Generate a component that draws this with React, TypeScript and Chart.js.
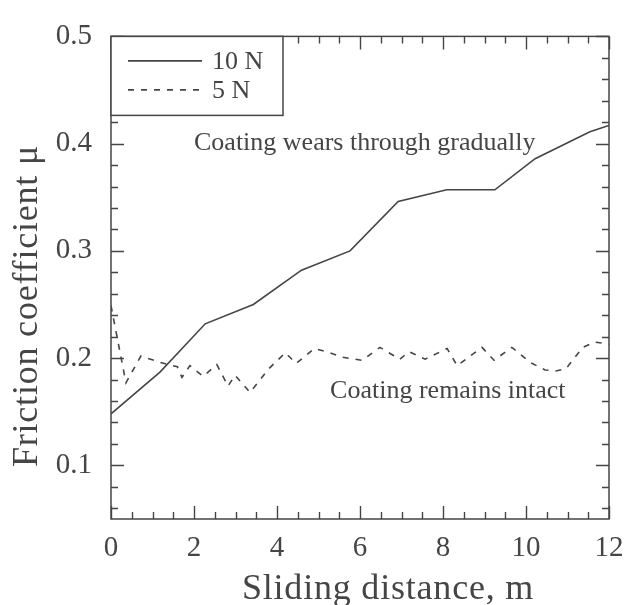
import React, { useEffect, useRef } from 'react';
import { Chart, registerables } from 'chart.js';

Chart.register(...registerables);

// ---- data ----
const distance10N = [0, 1.18, 2.27, 3.43, 4.59, 5.76, 6.92, 8.09, 9.25, 10.22, 11.54, 12];
const friction10N = [0.148, 0.187, 0.232, 0.25, 0.282, 0.3, 0.346, 0.357, 0.357, 0.386, 0.411, 0.417];

const distance5N = [0, 0.36, 0.72, 1.18, 1.6, 1.71, 1.9, 2.22, 2.55, 2.82, 2.99, 3.35, 3.8, 4.2, 4.46, 4.9, 5.28, 5.55, 6.05, 6.48, 6.96, 7.18, 7.57, 8.1, 8.34, 8.94, 9.23, 9.66, 10.1, 10.46, 10.72, 10.96, 11.37, 11.66, 12];
const friction5N = [0.249, 0.177, 0.202, 0.196, 0.192, 0.182, 0.193, 0.183, 0.194, 0.174, 0.184, 0.168, 0.19, 0.205, 0.195, 0.209, 0.205, 0.201, 0.198, 0.21, 0.199, 0.206, 0.199, 0.209, 0.193, 0.21, 0.198, 0.21, 0.196, 0.189, 0.188, 0.19, 0.21, 0.215, 0.213];

const seriesLabels = ['10 N', '5 N'];
const xTickValues = [0, 2, 4, 6, 8, 10, 12];
const yTickValues = [0.1, 0.2, 0.3, 0.4, 0.5];
const xMinorStep = 0.5;
const yMinorStep = 0.02;
const xTitle = 'Sliding distance, m';
const yTitle = 'Friction coefficient μ';
const annotations = [
  { text: 'Coating wears through gradually', x: 2.0, y: 0.3938 },
  { text: 'Coating remains intact', x: 5.28, y: 0.1625 },
];

const INK = '#454545';
const FONT = '"Liberation Serif", "Times New Roman", serif';

const decor = {
  id: 'decor',
  afterDraw(chart: any) {
    const { ctx, chartArea, scales } = chart;
    const { left, right, top, bottom } = chartArea;
    const xs = scales.x;
    const ys = scales.y;
    ctx.save();
    ctx.strokeStyle = INK;
    ctx.lineWidth = 1.4;
    ctx.lineCap = 'butt';

    // x ticks (bottom and top, inward)
    const xMin = xs.min, xMax = xs.max;
    const nX = Math.round((xMax - xMin) / xMinorStep);
    for (let i = 0; i <= nX; i++) {
      const v = xMin + i * xMinorStep;
      const major = xTickValues.some((t) => Math.abs(t - v) < 1e-6);
      const len = major ? 13 : 7;
      const px = Math.round(xs.getPixelForValue(v)) + 0.5;
      ctx.beginPath();
      ctx.moveTo(px, bottom);
      ctx.lineTo(px, bottom - len);
      ctx.moveTo(px, top);
      ctx.lineTo(px, top + len);
      ctx.stroke();
    }
    // y ticks (left and right, inward)
    const yStart = Math.ceil(ys.min / yMinorStep - 1e-6) * yMinorStep;
    for (let v = yStart; v <= ys.max + 1e-6; v += yMinorStep) {
      const major = yTickValues.some((t) => Math.abs(t - v) < 1e-6);
      const len = major ? 13 : 7;
      const py = Math.round(ys.getPixelForValue(v)) + 0.5;
      ctx.beginPath();
      ctx.moveTo(left, py);
      ctx.lineTo(left + len, py);
      ctx.moveTo(right, py);
      ctx.lineTo(right - len, py);
      ctx.stroke();
    }
    // frame
    ctx.lineWidth = 1.5;
    ctx.strokeRect(left, top, right - left, bottom - top);

    // legend box
    const lw = 172, lh = 79;
    ctx.fillStyle = '#ffffff';
    ctx.fillRect(left, top, lw, lh);
    ctx.lineWidth = 1.5;
    ctx.strokeRect(left, top, lw, lh);
    ctx.font = `26px ${FONT}`;
    ctx.textAlign = 'left';
    ctx.textBaseline = 'alphabetic';
    chart.data.datasets.forEach((ds: any, i: number) => {
      const ly = top + 24 + i * 29;
      ctx.save();
      ctx.strokeStyle = ds.borderColor;
      ctx.lineWidth = ds.borderWidth;
      ctx.setLineDash(ds.borderDash || []);
      ctx.beginPath();
      ctx.moveTo(left + 17, ly + 0.5);
      ctx.lineTo(left + 91, ly + 0.5);
      ctx.stroke();
      ctx.restore();
      ctx.fillStyle = INK;
      ctx.fillText(ds.label, left + 101, ly + 9);
    });

    // annotations
    ctx.fillStyle = INK;
    ctx.font = `26px ${FONT}`;
    annotations.forEach((a) => {
      ctx.fillText(a.text, xs.getPixelForValue(a.x), ys.getPixelForValue(a.y));
    });

    // axis titles
    ctx.font = `36px ${FONT}`;
    try { (ctx as any).letterSpacing = '0.8px'; } catch (e) { /* ignore */ }
    ctx.textAlign = 'center';
    ctx.fillText(xTitle, 388, 599);
    ctx.translate(37, 306);
    ctx.rotate(-Math.PI / 2);
    ctx.fillText(yTitle, 0, 0);
    try { (ctx as any).letterSpacing = '0px'; } catch (e) { /* ignore */ }
    ctx.restore();
  },
};

export default function App() {
  const ref = useRef<HTMLCanvasElement | null>(null);
  useEffect(() => {
    if (!ref.current) return;
    const chart = new Chart(ref.current, {
      type: 'line',
      data: {
        datasets: [
          {
            label: seriesLabels[0],
            data: distance10N.map((x, i) => ({ x, y: friction10N[i] })),
            borderColor: INK,
            borderWidth: 1.6,
            pointRadius: 0,
            tension: 0,
            fill: false,
          },
          {
            label: seriesLabels[1],
            data: distance5N.map((x, i) => ({ x, y: friction5N[i] })),
            borderColor: INK,
            borderWidth: 1.6,
            borderDash: [6, 7],
            pointRadius: 0,
            tension: 0,
            fill: false,
          },
        ],
      },
      options: {
        animation: false,
        responsive: false,
        layout: { padding: { left: 0, right: 33, top: 19, bottom: 0 } },
        plugins: { legend: { display: false }, tooltip: { enabled: false }, title: { display: false } },
        scales: {
          x: {
            type: 'linear',
            min: 0,
            max: 12,
            afterFit: (s: any) => { s.height = 86; },
            afterBuildTicks: (s: any) => { s.ticks = xTickValues.map((v) => ({ value: v })); },
            grid: { display: false, drawTicks: false },
            border: { display: false },
            ticks: {
              color: INK,
              font: { family: FONT, size: 29 },
              padding: 12,
              maxRotation: 0,
              callback: (v: any) => String(v),
            },
          },
          y: {
            type: 'linear',
            min: 0.05,
            max: 0.5,
            afterFit: (s: any) => { s.width = 111; },
            afterBuildTicks: (s: any) => { s.ticks = yTickValues.map((v) => ({ value: v })); },
            grid: { display: false, drawTicks: false },
            border: { display: false },
            ticks: {
              color: INK,
              font: { family: FONT, size: 29 },
              padding: 19,
              callback: (v: any) => Number(v).toFixed(1),
            },
          },
        },
      },
      plugins: [decor],
    });
    return () => chart.destroy();
  }, []);
  return (
    <div style={{ position: 'absolute', left: 0, top: 0, width: 642, height: 605, background: '#ffffff' }}>
      <canvas ref={ref} width={642} height={605} style={{ display: 'block' }} />
    </div>
  );
}
